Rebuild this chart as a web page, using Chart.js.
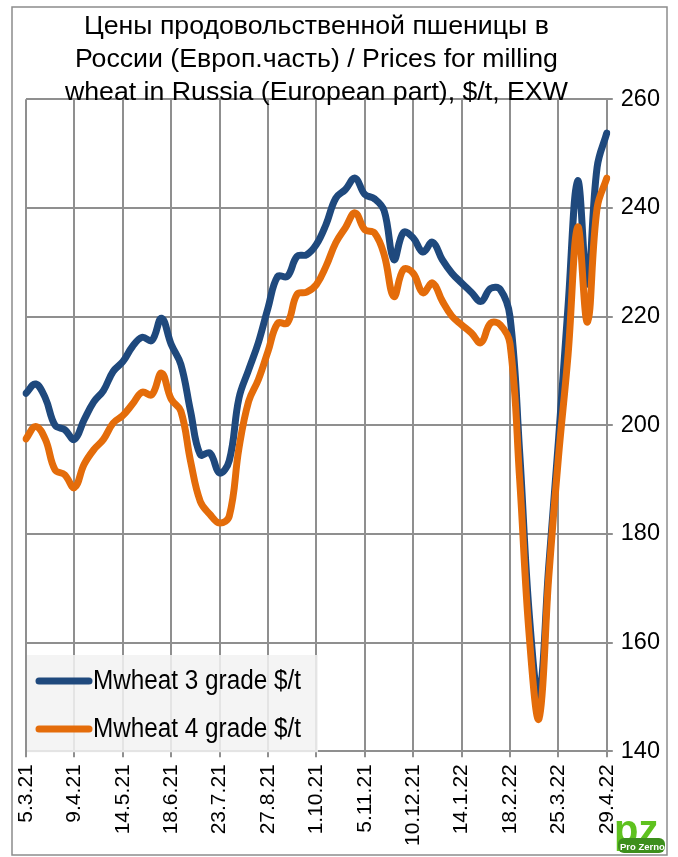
<!DOCTYPE html>
<html><head><meta charset="utf-8">
<script src="https://cdn.jsdelivr.net/npm/chart.js@4.4.1/dist/chart.umd.min.js"></script>
<style>html,body{margin:0;padding:0;background:#fff}#wrap{width:678px;height:857px;position:relative}</style>
</head><body><div id="wrap"><canvas id="c" width="678" height="857"></canvas></div>
<script>
const titleLines = ['Цены продовольственной пшеницы в', 'России (Европ.часть) / Prices for milling', 'wheat in Russia (European part), $/t, EXW'];
const dates = ['5.3.21','12.3.21','19.3.21','26.3.21','2.4.21','9.4.21','16.4.21','23.4.21','30.4.21','7.5.21',
  '14.5.21','21.5.21','28.5.21','4.6.21','11.6.21','18.6.21','25.6.21','2.7.21','9.7.21','16.7.21',
  '23.7.21','30.7.21','6.8.21','13.8.21','20.8.21','27.8.21','3.9.21','10.9.21','17.9.21','24.9.21',
  '1.10.21','8.10.21','15.10.21','22.10.21','29.10.21','5.11.21','12.11.21','19.11.21','26.11.21','3.12.21',
  '10.12.21','17.12.21','24.12.21','31.12.21','7.1.22','14.1.22','21.1.22','28.1.22','4.2.22','11.2.22',
  '18.2.22','25.2.22','4.3.22','11.3.22','18.3.22','25.3.22','1.4.22','8.4.22','15.4.22','22.4.22','29.4.22'];
const labelEvery = 5;
const seriesNames = ['Mwheat 3 grade $/t', 'Mwheat 4 grade $/t'];
const grade3 = [205.9,207.6,205.0,200.0,199.2,197.4,201.0,204.3,206.4,209.9,
  211.7,214.5,216.2,215.6,219.7,214.9,211.2,202.6,194.6,194.9,
  191.2,193.5,205.0,210.2,215.2,221.6,227.4,227.4,231.1,231.4,
  233.3,237.0,241.8,243.4,245.5,242.5,241.7,239.5,230.5,235.5,
  234.5,231.9,233.7,230.5,228.0,226.2,224.5,222.8,225.2,225.0,
  220.0,195.0,165.0,150.0,174.0,197.0,222.0,245.0,226.0,247.5,253.8];
const grade4 = [197.5,199.8,197.4,191.8,190.9,188.5,192.8,195.5,197.4,200.4,
  201.8,203.9,206.1,205.6,209.6,204.8,202.6,193.4,186.0,183.6,
  182.0,183.3,195.8,204.4,208.4,213.6,218.8,218.8,224.1,224.5,
  225.9,229.3,233.6,236.4,239.1,236.0,235.4,231.4,223.7,228.7,
  228.0,224.4,226.2,222.9,220.1,218.5,217.0,215.2,218.8,218.5,
  215.0,190.0,161.0,146.0,172.0,194.0,213.0,236.5,219.0,240.0,245.5];
const yTicks = {min: 140, max: 260, step: 20};
const colors = ['#1F497D', '#E46C0A'];

const FONT = "'Liberation Sans', Arial, sans-serif";
const GRID = '#8f8f8f';

const framePlugin = {
  id: 'frame',
  beforeDraw(chart) {
    const ctx = chart.ctx;
    ctx.save();
    ctx.fillStyle = '#fff';
    ctx.fillRect(0, 0, chart.width, chart.height);
    ctx.strokeStyle = '#8c8c8c';
    ctx.lineWidth = 1.5;
    ctx.strokeRect(12, 7, 655, 848);
    ctx.restore();
  }
};

const legendPlugin = {
  id: 'boxLegend',
  afterDraw(chart) {
    const ctx = chart.ctx;
    const a = chart.chartArea;
    ctx.save();
    ctx.fillStyle = 'rgba(242,242,242,0.86)';
    ctx.fillRect(a.left + 1, 655, 291, a.bottom - 655 + 1);
    const rows = [681, 729];
    chart.data.datasets.forEach((ds, k) => {
      const y = rows[k];
      ctx.strokeStyle = ds.borderColor;
      ctx.lineWidth = 7;
      ctx.lineCap = 'round';
      ctx.beginPath();
      ctx.moveTo(39, y);
      ctx.lineTo(89, y);
      ctx.stroke();
      ctx.save();
      ctx.translate(93, y + 8);
      ctx.scale(0.9, 1);
      ctx.fillStyle = '#000';
      ctx.font = '27px ' + FONT;
      ctx.textBaseline = 'alphabetic';
      ctx.fillText(ds.label, 0, 0);
      ctx.restore();
    });
    // logo
    ctx.fillStyle = '#5fc21f';
    ctx.font = 'bold 40px ' + FONT;
    ctx.textBaseline = 'alphabetic';
    ctx.fillText('pz', 614, 843);
    ctx.fillStyle = '#3d8f1c';
    ctx.beginPath();
    ctx.roundRect(618, 838, 47, 15, 6);
    ctx.fill();
    ctx.fillStyle = '#fff';
    ctx.font = 'bold 9.5px ' + FONT;
    ctx.fillText('Pro Zerno', 620, 849.5);
    ctx.restore();
  }
};

new Chart(document.getElementById('c'), {
  type: 'line',
  data: {
    labels: dates,
    datasets: [
      {label: seriesNames[0], data: grade3, borderColor: colors[0], backgroundColor: colors[0], borderWidth: 7, pointRadius: 0, tension: 0.4, order: 1, borderCapStyle: 'round', borderJoinStyle: 'round'},
      {label: seriesNames[1], data: grade4, borderColor: colors[1], backgroundColor: colors[1], borderWidth: 7, pointRadius: 0, tension: 0.4, order: 0, borderCapStyle: 'round', borderJoinStyle: 'round'}
    ]
  },
  options: {
    responsive: false,
    animation: false,
    events: [],
    layout: {padding: {left: 26, right: 10, top: 2, bottom: 4}},
    plugins: {
      legend: {display: false},
      tooltip: {enabled: false},
      title: {
        display: true,
        text: titleLines,
        fullSize: false,
        color: '#000',
        font: {family: FONT, size: 26.7, weight: 'normal', lineHeight: 1.24},
        padding: {top: 8, bottom: -10}
      }
    },
    scales: {
      x: {
        type: 'category',
        offset: false,
        grid: {
          color: c => (c.index % labelEvery === 0 ? GRID : 'rgba(0,0,0,0)'),
          lineWidth: 2,
          tickLength: 6,
          drawOnChartArea: true
        },
        border: {color: GRID, width: 2},
        ticks: {
          autoSkip: false,
          maxRotation: 90,
          minRotation: 90,
          padding: 7,
          color: '#000',
          font: {family: FONT, size: 21},
          callback: function(v, i) { return i % labelEvery === 0 ? this.getLabelForValue(v) : ''; }
        }
      },
      y: {
        position: 'right',
        min: yTicks.min,
        max: yTicks.max,
        grid: {color: GRID, lineWidth: 2, tickLength: 6},
        border: {color: GRID, width: 2},
        ticks: {stepSize: yTicks.step, padding: 8, color: '#000', font: {family: FONT, size: 23.5}}
      }
    }
  },
  plugins: [framePlugin, legendPlugin]
});
</script>
</body></html>
